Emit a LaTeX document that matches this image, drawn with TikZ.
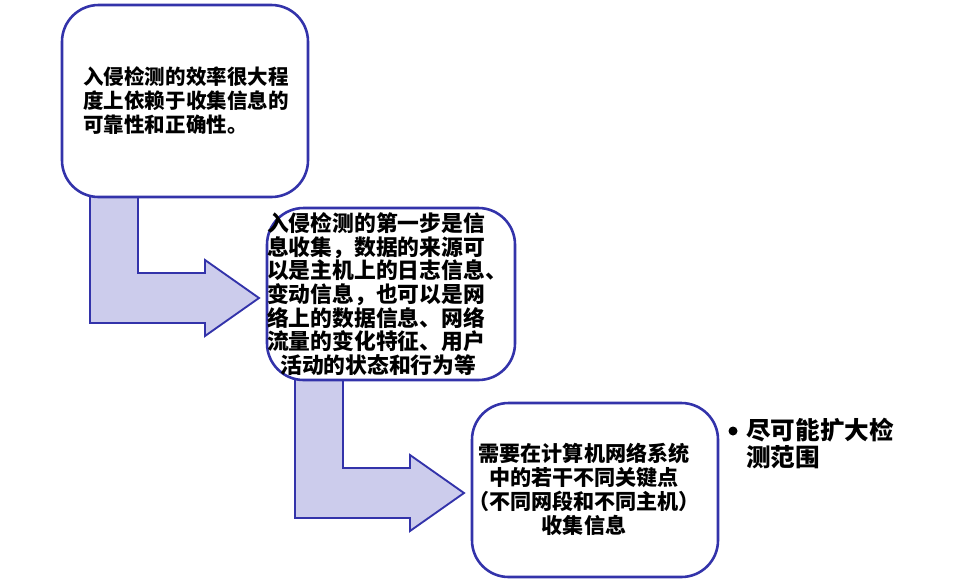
\documentclass[tikz,border=0pt]{standalone}
\usepackage{fontspec}
\setmainfont{Noto Sans CJK SC}
\begin{document}
\begin{tikzpicture}[x=0.03cm,y=-0.03cm,
  box/.style={draw=bd,line width=2.2pt,rounded corners=1.1cm,fill=white},
  arr/.style={draw=bd,line width=1.6pt,fill=af,line join=miter},
  txt/.style={font=\fontsize{17.5}{20.5}\selectfont\bfseries,inner sep=0pt}]
\definecolor{bd}{HTML}{3333AA}
\definecolor{af}{HTML}{CCCCEC}
\useasboundingbox (0,0) rectangle (960,579);
% arrows
\draw[arr] (90,197) -- (90,323) -- (205,323) -- (205,336) -- (259,298) -- (205,260) -- (205,273) -- (138,273) -- (138,197);
\draw[arr] (295,380) -- (295,518) -- (410,518) -- (410,531) -- (464,493) -- (410,455) -- (410,468) -- (343,468) -- (343,380);
% boxes
\draw[box] (62,5) rectangle (308,197);
\node[txt,align=left] (b1) at (186,101) {入侵检测的效率很大程\\度上依赖于收集信息的\\可靠性和正确性。};
\draw[box] (267,208) rectangle (515,380);
\node[txt,align=left,font=\fontsize{18.6}{20.2}\selectfont\bfseries] (b2) at (387,294) {入侵检测的第一步是信\\息收集，数据的来源可\\以是主机上的日志信息、\\变动信息，也可以是网\\络上的数据信息、网络\\流量的变化特征、用户\\\hspace*{0.6em}活动的状态和行为等};
\draw[box] (472,403) rectangle (718,577);
\node[txt,align=center,font=\fontsize{18}{20.5}\selectfont\bfseries] (b3) at (584,489) {需要在计算机网络系统\\中的若干不同关键点\\（不同网段和不同主机）\\收集信息};
% bullet
\node[txt,font=\fontsize{21}{23}\selectfont\bfseries,align=left,anchor=north west] (bl) at (746,418) {尽可能扩大检\\测范围};
\fill (733,431) circle (4.5);
\end{tikzpicture}
\end{document}
